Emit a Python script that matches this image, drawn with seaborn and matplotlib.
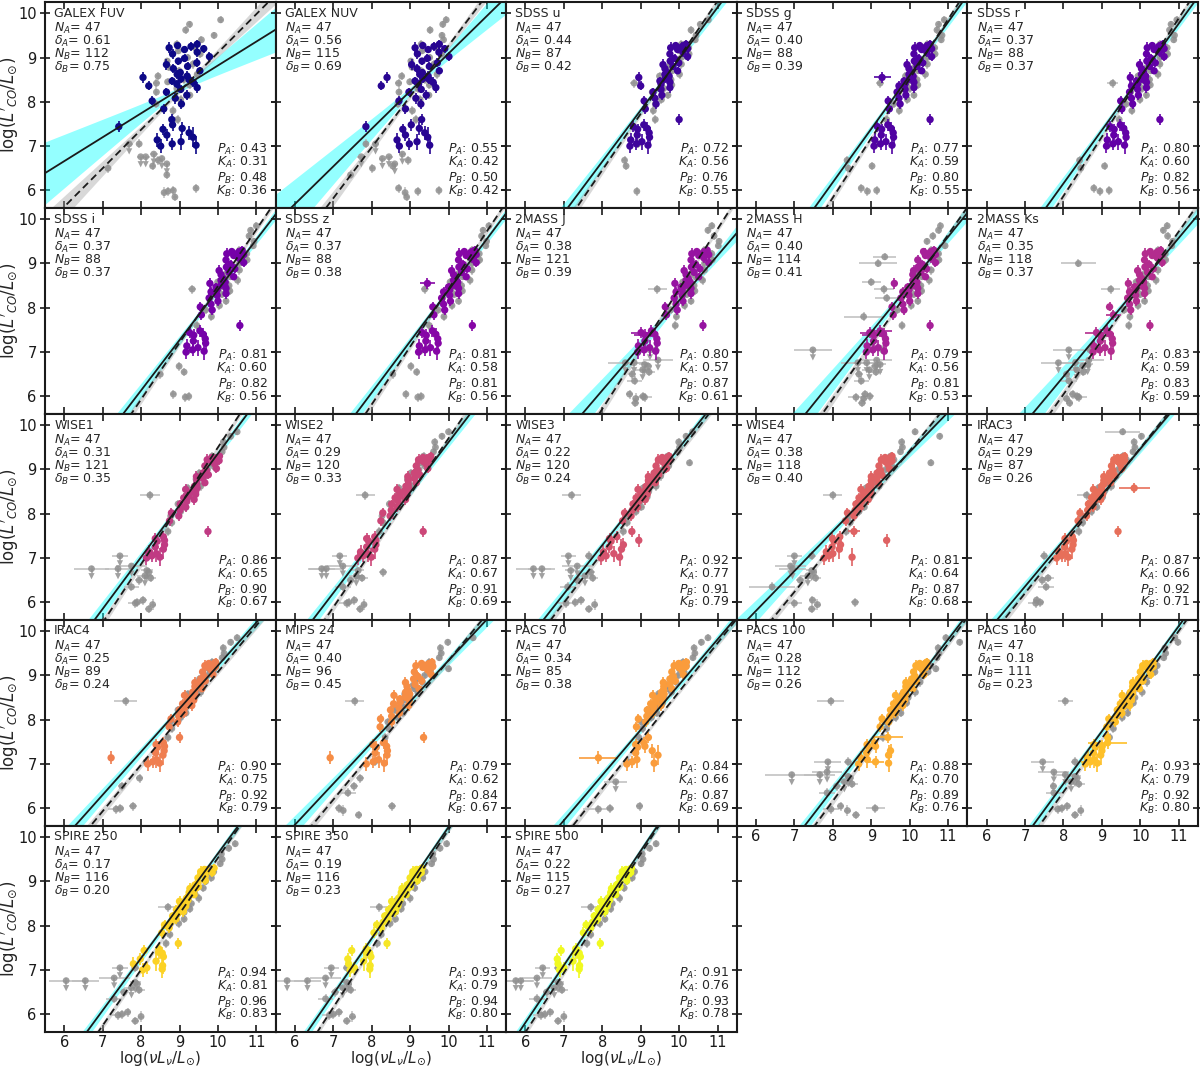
import numpy as np
import matplotlib
matplotlib.use("Agg")
import matplotlib.pyplot as plt
import seaborn as sns

nan = np.nan

# ---------------- panel metadata ----------------
BANDS = ["GALEX FUV", "GALEX NUV", "SDSS u", "SDSS g", "SDSS r", "SDSS i", "SDSS z",
         "2MASS J", "2MASS H", "2MASS Ks", "WISE1", "WISE2", "WISE3", "WISE4",
         "IRAC3", "IRAC4", "MIPS 24", "PACS 70", "PACS 100", "PACS 160",
         "SPIRE 250", "SPIRE 350", "SPIRE 500"]
N_A = [47] * 23
DELTA_A = [0.61, 0.56, 0.44, 0.40, 0.37, 0.37, 0.37, 0.38, 0.40, 0.35, 0.31, 0.29,
           0.22, 0.38, 0.29, 0.25, 0.40, 0.34, 0.28, 0.18, 0.17, 0.19, 0.22]
N_B = [112, 115, 87, 88, 88, 88, 88, 121, 114, 118, 121, 120, 120, 118, 87, 89,
       96, 85, 112, 111, 116, 116, 115]
DELTA_B = [0.75, 0.69, 0.42, 0.39, 0.37, 0.37, 0.38, 0.39, 0.41, 0.37, 0.35, 0.33,
           0.24, 0.40, 0.26, 0.24, 0.45, 0.38, 0.26, 0.23, 0.20, 0.23, 0.27]
P_A = [0.43, 0.55, 0.72, 0.77, 0.80, 0.81, 0.81, 0.80, 0.79, 0.83, 0.86, 0.87,
       0.92, 0.81, 0.87, 0.90, 0.79, 0.84, 0.88, 0.93, 0.94, 0.93, 0.91]
K_A = [0.31, 0.42, 0.56, 0.59, 0.60, 0.60, 0.58, 0.57, 0.56, 0.59, 0.65, 0.67,
       0.77, 0.64, 0.66, 0.75, 0.62, 0.66, 0.70, 0.79, 0.81, 0.79, 0.76]
P_B = [0.48, 0.50, 0.76, 0.80, 0.82, 0.82, 0.81, 0.87, 0.81, 0.83, 0.90, 0.91,
       0.91, 0.87, 0.92, 0.92, 0.84, 0.87, 0.89, 0.92, 0.96, 0.94, 0.93]
K_B = [0.36, 0.42, 0.55, 0.55, 0.56, 0.56, 0.56, 0.61, 0.53, 0.59, 0.67, 0.69,
       0.79, 0.68, 0.71, 0.79, 0.67, 0.69, 0.76, 0.80, 0.83, 0.80, 0.78]

# fit lines: y = slope * (x - 9) + value_at_9
SLOPE_A = [0.54, 0.85, 1.16, 1.206, 1.203, 1.135, 1.158, 1.015, 1.077, 1.043, 1.169, 1.135,
           1.10, 0.897, 1.036, 0.973, 0.928, 1.022, 1.127, 1.187, 1.181, 1.258, 1.293]
AT9_A = [8.28, 8.24, 7.81, 7.39, 7.36, 7.27, 7.24, 7.15, 7.45, 7.49, 8.19, 8.48,
         8.39, 8.50, 8.43, 8.25, 8.41, 7.77, 7.56, 7.74, 8.45, 8.97, 9.69]
SLOPE_B = [0.87, 1.149, 1.272, 1.342, 1.338, 1.279, 1.304, 1.354, 1.235, 1.225, 1.319, 1.272,
           1.13, 1.062, 1.092, 1.048, 1.048, 1.095, 1.184, 1.212, 1.262, 1.338, 1.342]
AT9_B = [8.24, 8.12, 7.73, 7.18, 7.21, 7.21, 7.12, 7.07, 7.18, 7.27, 8.18, 8.43,
         8.25, 8.36, 8.39, 8.03, 8.29, 7.54, 7.35, 7.58, 8.27, 8.83, 9.62]
PIVOT = [9.0, 9.3, 9.65, 10.0, 10.05, 10.1, 10.15, 10.2, 10.1, 10.0, 9.4, 8.9,
         9.15, 8.95, 9.0, 9.35, 8.9, 9.55, 9.85, 9.75, 9.2, 8.7, 8.15]
SLOPE_ERR_A = [0.20, 0.17, 0.08, 0.07, 0.07, 0.07, 0.07, 0.12, 0.12, 0.12, 0.07, 0.07,
               0.06, 0.08, 0.06, 0.06, 0.07, 0.06, 0.06, 0.05, 0.05, 0.05, 0.05]
SLOPE_ERR_B = [0.08, 0.07, 0.05, 0.04, 0.04, 0.04, 0.04, 0.05, 0.05, 0.05, 0.04, 0.04,
               0.04, 0.04, 0.04, 0.04, 0.04, 0.04, 0.04, 0.03, 0.03, 0.03, 0.03]

# ---------------- sample A (coloured): shared log L'CO ----------------
Y_A = [9.30, 9.27, 9.25, 9.22, 9.20, 9.18, 9.12, 9.08, 9.02, 8.98,
       8.92, 8.88, 8.84, 8.80, 8.75, 8.70, 8.66, 8.62, 8.58, 8.55,
       8.52, 8.50, 8.47, 8.44, 8.40, 8.36, 8.32, 8.28, 8.22, 8.15,
       8.08, 8.02, 7.95, 7.84, 7.60, 7.48, 7.44, 7.40, 7.38, 7.30,
       7.25, 7.20, 7.14, 7.10, 7.05, 7.02, 7.00]
YERR_A = [0.10, 0.08, 0.10, 0.12, 0.09, 0.08, 0.10, 0.12, 0.10, 0.09,
          0.08, 0.10, 0.12, 0.09, 0.10, 0.08, 0.09, 0.10, 0.11, 0.12,
          0.09, 0.10, 0.08, 0.11, 0.09, 0.10, 0.12, 0.09, 0.10, 0.11,
          0.12, 0.10, 0.11, 0.12, 0.12, 0.14, 0.12, 0.15, 0.13, 0.16,
          0.14, 0.22, 0.15, 0.18, 0.14, 0.20, 0.15]

XA_GALEX_FUV = [9.46, 8.95, 9.30, 8.73, 9.63, 9.13, 9.46, 8.82, 9.78, 9.13,
                8.97, 9.45, 8.66, 9.21, 8.84, 9.53, 9.02, 8.94, 9.20, 8.05,
                9.04, 9.25, 8.81, 9.36, 8.93, 8.20, 9.46, 9.03, 8.66, 9.19,
                8.89, 8.29, 9.05, 8.59, 8.80, 8.82, 7.42, 9.07, 8.57, 9.25,
                8.67, 9.35, 8.42, 9.04, 8.81, 9.43, 8.51]
XA_GALEX_NUV = [9.76, 9.33, 9.62, 9.13, 9.90, 9.47, 9.75, 9.19, 10.01, 9.45,
                9.31, 9.71, 9.04, 9.50, 9.18, 9.76, 9.32, 9.25, 9.47, 8.40,
                9.33, 9.50, 9.13, 9.60, 9.22, 8.25, 9.67, 9.29, 8.97, 9.42,
                9.15, 8.71, 9.28, 8.88, 9.30, 9.03, 7.85, 9.24, 8.81, 9.38,
                8.88, 9.46, 8.66, 9.18, 8.98, 9.51, 8.72]
XA_SDSS_U = [10.18, 9.91, 10.08, 9.78, 10.22, 9.96, 10.10, 9.76, 10.22, 9.88,
             9.77, 9.99, 9.58, 9.84, 9.63, 9.96, 9.69, 9.63, 9.74, 8.95,
             9.64, 9.73, 9.50, 9.76, 9.53, 9.00, 9.76, 9.53, 9.32, 9.55,
             9.37, 9.09, 9.40, 9.12, 10.00, 9.08, 8.81, 9.17, 8.92, 9.22,
             8.91, 9.23, 8.74, 9.03, 8.89, 9.19, 8.72]
XA_SDSS_G = [10.53, 10.26, 10.43, 10.13, 10.57, 10.31, 10.45, 10.11, 10.57, 10.23,
             10.12, 10.34, 9.93, 10.19, 9.98, 10.31, 10.04, 9.98, 10.09, 9.28,
             9.99, 10.08, 9.85, 10.11, 9.88, 9.72, 10.11, 9.88, 9.67, 9.90,
             9.72, 9.44, 9.75, 9.47, 10.53, 9.43, 9.16, 9.52, 9.27, 9.57,
             9.26, 9.58, 9.09, 9.38, 9.24, 9.54, 9.07]
XA_SDSS_R = [10.58, 10.31, 10.48, 10.18, 10.62, 10.36, 10.50, 10.16, 10.62, 10.28,
             10.17, 10.39, 9.98, 10.24, 10.03, 10.36, 10.09, 10.03, 10.14, 9.74,
             10.04, 10.13, 9.90, 10.16, 9.93, 9.77, 10.16, 9.93, 9.72, 9.95,
             9.77, 9.49, 9.80, 9.52, 10.51, 9.48, 9.21, 9.57, 9.32, 9.62,
             9.31, 9.63, 9.14, 9.43, 9.29, 9.59, 9.12]
XA_SDSS_I = [10.63, 10.36, 10.53, 10.23, 10.67, 10.41, 10.55, 10.21, 10.67, 10.33,
             10.22, 10.44, 10.03, 10.29, 10.08, 10.41, 10.14, 10.08, 10.19, 9.79,
             10.09, 10.18, 9.95, 10.21, 9.98, 9.82, 10.21, 9.98, 9.77, 10.00,
             9.82, 9.54, 9.85, 9.57, 10.57, 9.53, 9.26, 9.62, 9.37, 9.67,
             9.36, 9.68, 9.19, 9.48, 9.34, 9.64, 9.17]
XA_SDSS_Z = [10.68, 10.41, 10.58, 10.28, 10.72, 10.46, 10.60, 10.26, 10.72, 10.38,
             10.27, 10.49, 10.08, 10.34, 10.13, 10.46, 10.19, 10.13, 10.24, 9.45,
             10.14, 10.23, 10.00, 10.26, 10.03, 9.87, 10.26, 10.03, 9.82, 10.05,
             9.87, 9.59, 9.90, 9.62, 10.62, 9.58, 9.31, 9.67, 9.42, 9.72,
             9.41, 9.73, 9.24, 9.53, 9.39, 9.69, 9.22]
XA_2MASS_J = [10.73, 10.46, 10.63, 10.33, 10.77, 10.51, 10.65, 10.31, 10.77, 10.43,
              10.32, 10.54, 10.13, 10.39, 10.18, 10.51, 10.24, 10.18, 10.29, 9.89,
              10.19, 10.28, 10.05, 10.31, 10.08, 9.92, 10.31, 10.08, 9.87, 10.10,
              9.92, 9.64, 9.95, 9.67, 10.62, 9.28, 9.01, 9.37, 9.12, 9.42,
              9.11, 9.43, 8.94, 9.23, 9.09, 9.39, 8.92]
XA_2MASS_H = [10.63, 10.36, 10.53, 10.40, 10.67, 10.41, 10.55, 10.21, 10.67, 10.33,
              10.22, 10.44, 10.10, 10.29, 10.08, 10.41, 10.14, 10.08, 10.19, 9.60,
              10.09, 10.18, 9.95, 10.21, 9.98, 9.82, 10.21, 9.98, 9.77, 10.00,
              9.82, 9.54, 9.85, 9.57, 10.53, 9.23, 8.96, 9.32, 9.07, 9.37,
              9.06, 9.38, 8.89, 9.18, 9.04, 9.34, 8.87]
XA_2MASS_KS = [10.53, 10.26, 10.43, 10.13, 10.57, 10.31, 10.45, 10.11, 10.57, 10.23,
               10.12, 10.34, 9.93, 10.19, 9.98, 10.31, 10.04, 9.98, 10.09, 9.69,
               9.99, 10.08, 9.85, 10.11, 9.88, 9.72, 10.11, 9.88, 9.67, 9.90,
               9.72, 9.20, 9.75, 9.30, 10.25, 9.13, 8.86, 9.22, 8.97, 9.27,
               8.96, 9.28, 8.79, 9.08, 8.94, 9.24, 8.77]
XA_WISE1 = [10.04, 9.84, 9.95, 9.72, 10.03, 9.84, 9.92, 9.66, 9.96, 9.70,
            9.61, 9.75, 9.44, 9.61, 9.45, 9.66, 9.45, 9.39, 9.46, 9.16,
            9.36, 9.42, 9.25, 9.42, 9.24, 9.11, 9.38, 9.19, 9.02, 9.16,
            9.01, 8.79, 8.98, 8.74, 9.74, 8.58, 8.37, 8.61, 8.42, 8.61,
            8.37, 8.58, 8.21, 8.40, 8.28, 8.49, 8.14]
XA_WISE2 = [9.54, 9.34, 9.45, 9.22, 9.53, 9.34, 9.42, 9.16, 9.46, 9.20,
            9.11, 9.25, 8.94, 9.11, 8.95, 9.16, 8.95, 8.89, 8.96, 8.66,
            8.86, 8.92, 8.75, 8.92, 8.74, 8.61, 8.88, 8.69, 8.52, 8.66,
            8.51, 8.29, 8.48, 8.24, 9.34, 8.08, 7.87, 8.11, 7.92, 8.11,
            7.87, 8.08, 7.71, 7.90, 7.78, 7.99, 7.64]
XA_WISE3 = [9.74, 9.56, 9.66, 9.46, 9.74, 9.56, 9.63, 9.40, 9.67, 9.44,
            9.35, 9.47, 9.20, 9.35, 9.20, 9.38, 9.20, 9.14, 9.20, 8.93,
            9.11, 9.17, 9.01, 9.17, 9.00, 8.88, 9.12, 8.95, 8.80, 8.92,
            8.78, 8.58, 8.75, 8.53, 8.77, 8.38, 8.19, 8.95, 8.23, 8.55,
            8.18, 8.50, 8.03, 8.30, 8.10, 8.45, 7.97]
XA_WISE4 = [9.54, 9.36, 9.46, 9.26, 9.54, 9.36, 9.43, 9.20, 9.47, 9.24,
            9.15, 9.27, 9.00, 9.15, 9.00, 9.18, 9.00, 8.94, 9.00, 8.73,
            8.91, 8.97, 8.81, 8.97, 8.80, 8.68, 8.92, 8.75, 8.60, 8.72,
            8.58, 8.38, 8.55, 8.33, 8.55, 8.18, 7.99, 9.40, 8.03, 8.20,
            7.98, 8.17, 7.83, 8.00, 7.90, 8.50, 7.77]
XA_IRAC3 = [9.59, 9.41, 9.51, 9.31, 9.59, 9.41, 9.48, 9.25, 9.52, 9.29,
            9.20, 9.32, 9.05, 9.20, 9.05, 9.23, 9.05, 8.99, 9.84, 8.78,
            8.96, 9.02, 8.86, 9.02, 8.85, 8.73, 8.97, 8.80, 8.65, 8.77,
            8.63, 8.43, 8.60, 8.38, 9.42, 8.23, 8.04, 8.26, 8.08, 8.25,
            8.03, 8.22, 7.88, 8.05, 7.95, 8.13, 7.82]
XA_IRAC4 = [9.94, 9.76, 9.86, 9.66, 9.94, 9.76, 9.83, 9.60, 9.87, 9.64,
            9.55, 9.67, 9.40, 9.55, 9.40, 9.58, 9.40, 9.34, 9.40, 9.13,
            9.31, 9.37, 9.21, 9.37, 9.20, 9.08, 9.32, 9.15, 9.00, 9.12,
            8.98, 8.78, 8.95, 8.73, 9.00, 8.58, 8.39, 8.61, 8.43, 8.60,
            8.38, 8.57, 7.22, 8.40, 8.30, 8.48, 8.17]
XA_MIPS24 = [9.57, 9.30, 9.46, 9.15, 9.59, 9.33, 9.46, 9.11, 9.55, 9.20,
             9.09, 9.30, 8.88, 9.13, 8.92, 9.23, 8.95, 8.88, 8.99, 8.58,
             8.87, 8.96, 8.73, 8.98, 8.74, 8.57, 8.96, 8.71, 8.49, 8.72,
             8.52, 8.23, 8.52, 8.22, 9.35, 8.31, 8.03, 8.39, 8.12, 8.41,
             8.09, 8.40, 6.92, 8.18, 8.04, 8.33, 7.86]
XA_PACS70 = [10.19, 9.99, 10.10, 9.87, 10.18, 9.99, 10.07, 9.81, 10.11, 9.85,
             9.76, 9.90, 9.59, 9.76, 9.60, 9.81, 9.60, 9.54, 9.61, 9.31,
             9.51, 9.57, 9.40, 9.57, 9.39, 9.26, 9.53, 9.34, 9.17, 9.31,
             9.16, 8.94, 9.13, 8.89, 9.20, 9.08, 8.87, 9.11, 8.92, 9.30,
             8.87, 9.45, 7.90, 8.90, 8.78, 9.35, 8.64]
XA_PACS100 = [10.44, 10.26, 10.36, 10.16, 10.44, 10.26, 10.33, 10.10, 10.37, 10.14,
              10.05, 10.17, 9.90, 10.05, 9.90, 10.08, 9.90, 9.84, 9.90, 9.63,
              9.81, 9.87, 9.71, 9.87, 9.70, 9.58, 9.82, 9.65, 9.50, 9.62,
              9.48, 9.28, 9.45, 9.23, 9.43, 9.08, 8.89, 9.11, 8.93, 9.50,
              8.88, 9.45, 8.73, 8.90, 9.11, 9.45, 8.67]
XA_PACS160 = [10.34, 10.16, 10.26, 10.06, 10.34, 10.16, 10.23, 10.00, 10.27, 10.04,
              9.95, 10.07, 9.80, 9.95, 9.80, 9.98, 9.80, 9.74, 9.80, 9.53,
              9.71, 9.77, 9.61, 9.77, 9.60, 9.48, 9.72, 9.55, 9.40, 9.52,
              9.38, 9.18, 9.35, 9.13, 9.15, 9.15, 8.79, 9.01, 8.83, 9.00,
              8.78, 8.97, 8.63, 8.80, 8.70, 8.88, 8.57]
XA_SPIRE250 = [9.90, 9.65, 9.72, 9.55, 9.85, 9.63, 9.67, 9.48, 9.67, 9.48,
               9.40, 9.49, 9.27, 9.38, 9.25, 9.38, 9.23, 9.18, 9.22, 9.00,
               9.13, 9.17, 9.04, 9.16, 9.02, 8.92, 9.10, 8.96, 8.82, 8.91,
               8.78, 8.61, 8.73, 8.54, 8.97, 8.46, 8.08, 8.46, 8.55, 8.58,
               7.98, 8.39, 7.80, 8.56, 8.15, 8.55, 8.04]
XA_SPIRE350 = [9.31, 9.17, 9.24, 9.07, 9.29, 9.15, 9.19, 9.00, 9.19, 9.00,
               8.92, 9.01, 8.79, 8.90, 8.77, 8.90, 8.75, 8.70, 8.74, 8.52,
               8.65, 8.69, 8.56, 8.68, 8.54, 8.44, 8.62, 8.48, 8.34, 8.43,
               8.30, 8.13, 8.25, 8.06, 8.40, 7.86, 7.48, 7.86, 7.95, 7.98,
               7.38, 7.79, 7.40, 7.96, 7.55, 7.95, 7.44]
XA_SPIRE500 = [8.76, 8.62, 8.69, 8.52, 8.74, 8.60, 8.64, 8.45, 8.64, 8.45,
               8.37, 8.46, 8.24, 8.35, 8.22, 8.35, 8.20, 8.15, 8.19, 7.97,
               8.10, 8.14, 8.01, 8.13, 7.99, 7.89, 8.07, 7.93, 7.79, 7.88,
               7.75, 7.58, 7.70, 7.51, 7.95, 7.31, 6.93, 7.31, 7.40, 7.43,
               6.83, 7.24, 6.85, 7.41, 7.00, 7.40, 6.89]

# wide horizontal error bars of a few coloured points  {panel: {point: xerr}}
XERR_A_WIDE = {3: {19: 0.22}, 6: {19: 0.20}, 7: {36: 0.25, 38: 0.30},
               8: {35: 0.30, 36: 0.25, 38: 0.30}, 9: {36: 0.30, 33: 0.20},
               13: {34: 0.15}, 14: {18: 0.40}, 17: {42: 0.50},
               18: {34: 0.40, 44: 0.22}, 19: {35: 0.50, 44: 0.25}}

# ---------------- sample B extra galaxies (grey): shared log L'CO ----------------
Y_B = [6.76, 6.76, 7.05, 6.82, 6.72, 6.60, 6.50, 6.35, 6.05, 6.00,
       5.95, 5.85, 5.98, 6.68, 6.55, 7.05, 7.60, 7.80, 7.95, 8.05,
       8.15, 8.22, 8.30, 8.38, 8.45, 8.50, 8.58, 8.62, 8.70, 8.78,
       8.85, 8.92, 9.00, 9.08, 9.15, 9.22, 9.30, 9.40, 9.50, 9.62,
       9.75, 9.85, 8.42]
YERR_B = [0.05, 0.05, 0.05, 0.05, 0.05, 0.05, 0.10, 0.10, 0.10, 0.10,
          0.12, 0.10, 0.10, 0.10, 0.10, 0.10, 0.10, 0.10, 0.09, 0.10,
          0.08, 0.10, 0.09, 0.10, 0.08, 0.10, 0.09, 0.10, 0.08, 0.09,
          0.10, 0.08, 0.09, 0.10, 0.08, 0.09, 0.10, 0.08, 0.08, 0.09,
          0.08, 0.08, 0.10]
UPPER_LIMIT_B = [1, 1, 1, 1, 1, 1, 0, 0, 0, 0,
                 0, 0, 0, 0, 0, 0, 0, 0, 0, 0,
                 0, 0, 0, 0, 0, 0, 0, 0, 0, 0,
                 0, 0, 0, 0, 0, 0, 0, 0, 0, 0,
                 0, 0, 0]
XERR_B_OPT = [0.10, 0.10, 0.10, 0.10, 0.08, 0.08, 0.06, 0.06, 0.06, 0.05,
              0.05, 0.05, 0.05, 0.06, 0.06, 0.06, 0.05, 0.05, 0.05, 0.05,
              0.05, 0.05, 0.05, 0.05, 0.05, 0.05, 0.05, 0.05, 0.05, 0.05,
              0.05, 0.05, 0.05, 0.05, 0.05, 0.05, 0.05, 0.05, 0.05, 0.05,
              0.05, 0.05, 0.10]
XERR_B_IR = [0.45, 0.35, 0.20, 0.40, 0.15, 0.20, 0.10, 0.20, 0.10, 0.10,
             0.08, 0.10, 0.20, 0.10, 0.15, 0.10, 0.06, 0.06, 0.06, 0.06,
             0.06, 0.06, 0.06, 0.06, 0.06, 0.06, 0.06, 0.06, 0.06, 0.06,
             0.06, 0.06, 0.06, 0.06, 0.06, 0.06, 0.06, 0.06, 0.05, 0.05,
             0.05, 0.05, 0.25]
XERR_B_WIDE = {4: {42: 0.15}, 8: {34: 0.30, 32: 0.50, 26: 0.25, 17: 0.50, 21: 0.30, 2: 0.50},
               9: {32: 0.45, 2: 0.40}, 13: {7: 0.60}, 14: {41: 0.45}, 15: {42: 0.30},
               17: {12: 0.40, 5: 0.30}, 18: {0: 0.70, 1: 0.40, 2: 0.35, 9: 0.25, 42: 0.35},
               19: {2: 0.30, 42: 0.20}}

XB_GALEX_FUV = [7.99, 8.12, 7.69, 8.33, 8.54, 8.67, 7.14, 8.67, 9.43, 8.84,
                8.60, 8.88, 8.70, 8.45, 8.30, 7.95, 8.95, 8.83, 8.39, 9.03,
                9.27, 8.40, 8.93, 9.26, 8.69, 9.11, 8.44, 9.46, 8.99, 8.72,
                9.35, 8.68, 9.21, 9.54, 8.97, 9.40, 8.93, 9.57, 9.90, 9.16,
                9.26, 10.07, 8.40]
XB_GALEX_NUV = [7.73, 8.45, 8.10, 8.80, 8.28, 8.60, 8.02, 7.45, 8.70, 9.75,
                8.87, 8.91, 9.20, 8.95, 8.55, 7.85, 9.15, 9.06, 8.68, 9.26,
                9.49, 8.71, 9.20, 9.50, 8.99, 9.38, 8.78, 9.70, 9.29, 9.05,
                9.62, 9.02, 9.51, 9.82, 9.31, 9.70, 9.29, 9.87, 9.83, 9.52,
                9.85, 9.94, 8.70]
XB_SDSS_U = [nan, nan, nan, nan, nan, nan, nan, nan, nan, nan,
             nan, nan, 8.90, 8.58, 8.62, 8.93, 9.38, 9.33, 9.38, 9.54,
             9.71, 9.30, 9.60, 9.81, 9.55, 9.79, 9.49, 10.01, 9.82, 9.72,
             10.06, 9.76, 10.06, 10.26, 10.01, 10.25, 10.06, 10.42, 10.44, 10.31,
             10.55, 10.76, 8.83]
XB_SDSS_G = [nan, nan, nan, nan, nan, nan, 8.40, nan, 8.74, 9.14,
             nan, nan, 8.90, 8.37, 9.02, 9.15, 9.40, 9.73, 9.58, 9.94,
             10.11, 9.70, 10.00, 10.21, 9.95, 10.19, 9.89, 10.41, 10.22, 10.12,
             10.46, 10.16, 10.46, 10.66, 10.41, 10.65, 10.46, 10.82, 10.84, 10.71,
             10.75, 10.90, 9.23]
XB_SDSS_R = [nan, nan, nan, nan, nan, nan, 8.45, nan, 8.79, 9.19,
             nan, nan, 8.95, 8.42, 9.07, 9.20, 9.45, 9.78, 9.63, 9.99,
             10.16, 9.75, 10.05, 10.26, 10.00, 10.24, 9.94, 10.46, 10.27, 10.17,
             10.51, 10.21, 10.51, 10.71, 10.46, 10.70, 10.51, 10.87, 10.89, 10.76,
             10.80, 10.95, 9.28]
XB_SDSS_I = [nan, nan, nan, nan, nan, nan, 8.50, nan, 8.84, 9.24,
             nan, nan, 9.15, 8.99, 9.12, 9.25, 9.45, 9.83, 9.68, 10.04,
             10.21, 9.80, 10.10, 10.31, 10.05, 10.29, 9.99, 10.51, 10.32, 10.22,
             10.56, 10.26, 10.56, 10.76, 10.51, 10.75, 10.56, 10.92, 10.94, 10.81,
             10.85, 11.00, 9.33]
XB_SDSS_Z = [nan, nan, nan, nan, nan, nan, 8.55, nan, 8.89, 9.29,
             nan, nan, 9.20, 9.02, 9.17, 9.30, 9.50, 9.88, 9.73, 10.09,
             10.26, 9.85, 10.15, 10.36, 10.10, 10.34, 10.04, 10.56, 10.37, 10.27,
             10.61, 10.31, 10.61, 10.81, 10.56, 10.80, 10.61, 10.97, 10.99, 10.86,
             10.90, 11.05, 9.38]
XB_2MASS_J = [8.60, 8.83, 9.24, 9.45, 9.10, 9.05, 8.78, 8.84, 8.71, 9.06,
              8.87, 8.86, 9.10, 9.20, 9.22, 9.39, 9.90, 9.93, 9.78, 10.14,
              10.31, 9.90, 10.20, 10.41, 10.15, 10.39, 10.09, 10.61, 10.42, 10.32,
              10.66, 10.36, 10.66, 10.86, 10.61, 10.85, 10.66, 11.02, 11.04, 10.91,
              10.75, 10.85, 9.43]
XB_2MASS_H = [8.65, 8.88, 7.48, 9.14, 9.23, 8.95, 8.68, 8.74, 8.84, 8.96,
              8.80, 8.76, 8.60, 9.10, 9.12, 9.29, 9.80, 8.80, 9.68, 10.04,
              10.21, 9.40, 10.10, 10.31, 10.05, 10.29, 9.00, 10.51, 10.32, 10.22,
              10.56, 10.26, 9.18, 10.76, 9.35, 10.75, 10.56, 10.92, 10.45, 10.60,
              10.75, 10.80, 9.33]
XB_2MASS_KS = [7.87, 8.31, 8.14, 8.66, 8.63, 8.35, 8.08, 8.14, 8.24, 8.36,
               8.08, 8.16, 8.40, 8.50, 8.52, 8.69, 9.70, 9.73, 9.58, 9.94,
               10.11, 9.70, 10.00, 10.21, 9.95, 10.19, 9.89, 10.41, 10.22, 10.12,
               10.46, 10.16, 8.39, 10.66, 10.41, 10.65, 10.46, 10.82, 10.84, 10.71,
               10.60, 10.70, 9.23]
XB_WISE1 = [6.71, 7.40, 7.45, 7.75, 8.15, 8.10, 7.95, 7.75, 8.05, 7.90,
            8.30, 8.20, 7.85, 8.20, 8.25, 8.20, 8.70, 8.80, 8.77, 9.03,
            9.17, 8.96, 9.17, 9.32, 9.20, 9.36, 9.21, 9.55, 9.46, 9.43,
            9.67, 9.52, 9.73, 9.88, 9.76, 9.94, 9.85, 10.11, 10.16, 10.14,
            10.33, 10.50, 8.23]
XB_WISE2 = [6.82, 6.70, 7.17, 7.25, 7.65, 7.60, 7.45, 7.25, 7.55, 7.40,
            7.80, 7.70, 7.35, 8.30, 7.75, 7.70, 8.20, 8.30, 8.27, 8.53,
            8.67, 8.46, 8.67, 8.82, 8.70, 8.86, 8.71, 9.05, 8.96, 8.93,
            9.17, 9.02, 9.23, 9.38, 9.26, 9.44, 9.35, 9.61, 9.66, 9.64,
            9.83, 10.00, 7.83]
XB_WISE3 = [6.21, 6.43, 7.12, 7.35, 7.18, 7.55, 7.35, 7.10, 7.45, 7.30,
            7.80, 7.65, 7.06, 7.70, 7.75, 7.65, 8.55, 8.65, 8.62, 8.88,
            9.02, 8.81, 9.02, 9.17, 9.05, 9.21, 9.06, 9.40, 9.31, 9.28,
            9.52, 9.37, 9.58, 9.73, 10.27, 9.79, 9.70, 9.96, 10.01, 9.99,
            10.18, 10.35, 7.20]
XB_WISE4 = [nan, 6.95, 7.00, 6.90, 7.45, 7.35, 7.15, 6.42, 7.47, 8.58,
            7.60, 7.45, 7.00, 7.50, 7.55, 7.45, 8.35, 8.45, 8.42, 8.68,
            8.82, 8.61, 8.82, 8.97, 8.85, 9.01, 8.86, 9.20, 9.11, 9.08,
            9.32, 9.17, 9.38, 9.53, 10.55, 9.59, 9.50, 9.76, 9.81, 9.79,
            10.78, 10.14, 8.00]
XB_IRAC3 = [nan, nan, nan, nan, nan, nan, 7.45, 7.55, 7.30, 7.40,
            nan, nan, 7.28, nan, 7.60, 7.50, 8.40, 8.50, 8.47, 8.73,
            8.87, 8.66, 8.87, 9.02, 8.90, 9.06, 8.91, 9.25, 9.16, 9.13,
            9.37, 9.22, 9.43, 9.58, 9.46, 9.64, 9.55, 9.81, 9.86, 9.84,
            10.03, 9.54, 8.60]
XB_IRAC4 = [nan, nan, nan, nan, nan, nan, 7.50, nan, 7.79, 7.46,
            nan, nan, 7.35, 7.96, nan, 8.13, 8.70, 8.80, 8.77, 9.03,
            9.17, 8.96, 9.17, 9.32, 9.20, 9.36, 9.21, 9.55, 9.46, 9.43,
            9.67, 9.52, 9.73, 9.88, 9.76, 9.94, 9.85, 10.11, 10.16, 10.14,
            10.33, 10.50, 7.60]
XB_MIPS24 = [nan, nan, nan, nan, nan, nan, 7.54, 7.38, 8.53, 7.15,
             7.26, 7.66, nan, 7.70, nan, 8.08, 8.35, 8.45, 8.42, 8.68,
             8.82, 8.61, 8.82, 8.97, 8.85, 9.01, 8.86, 9.20, 9.11, 9.08,
             9.32, 9.17, 9.38, 9.53, 10.00, 9.59, 9.50, 9.76, 9.81, 9.79,
             9.98, 10.64, 7.56]
XB_PACS70 = [nan, nan, nan, nan, nan, 8.35, nan, nan, 8.97, 8.20,
             nan, nan, 7.90, nan, nan, 8.68, 8.95, 9.05, 9.02, 9.28,
             9.42, 9.21, 9.42, 9.57, 9.45, 9.61, 9.46, 9.80, 9.71, 9.68,
             9.92, 9.77, 9.98, 10.13, 10.01, 10.19, 10.10, 10.36, 10.41, 10.39,
             10.58, 10.75, nan]
XB_PACS100 = [6.93, 7.66, 7.87, 7.85, 8.40, 8.30, 8.10, 7.85, 8.20, 9.10,
              8.38, 8.60, 7.95, 8.45, 8.50, 8.40, 9.30, 9.40, 9.37, 9.63,
              9.77, 9.56, 9.77, 9.92, 9.80, 9.96, 9.81, 10.15, 10.06, 10.03,
              10.27, 10.12, 10.33, 10.48, 10.68, 10.54, 10.45, 10.71, 10.76, 10.74,
              11.30, 10.94, 7.95]
XB_PACS160 = [nan, 8.05, 7.46, 7.75, 8.30, 8.20, 7.74, 7.75, 8.10, 7.95,
              8.45, 8.30, 7.85, 8.35, 8.40, 8.30, 9.20, 9.30, 9.27, 9.53,
              9.67, 9.46, 9.67, 9.82, 9.70, 9.86, 9.71, 10.05, 9.96, 9.93,
              10.17, 10.02, 10.23, 10.38, 10.26, 10.44, 10.35, 10.61, 10.66, 10.64,
              10.98, 10.90, 8.05]
XB_SPIRE250 = [6.05, 6.55, 7.45, 7.30, 7.85, 7.75, 7.55, 7.30, 7.65, 7.50,
               8.00, 7.85, 7.40, 7.90, 7.95, 7.85, 8.65, 8.75, 8.72, 8.98,
               9.12, 8.91, 9.12, 9.27, 9.15, 9.31, 9.16, 9.50, 9.41, 9.38,
               9.62, 9.47, 9.68, 9.83, 9.71, 9.89, 9.80, 10.06, 10.11, 10.09,
               10.28, 10.45, 8.70]
XB_SPIRE350 = [5.80, 6.33, 6.95, 6.80, 7.35, 7.25, 7.05, 6.80, 7.15, 7.00,
               7.50, 7.35, 6.90, 7.40, 7.45, 7.35, 8.15, 8.25, 8.22, 8.48,
               8.62, 8.41, 8.62, 8.77, 8.65, 8.81, 8.66, 9.00, 8.91, 8.88,
               9.12, 8.97, 9.18, 9.33, 9.21, 9.39, 9.30, 9.56, 9.61, 9.59,
               9.78, 9.95, 8.20]
XB_SPIRE500 = [5.75, 5.88, 6.45, 6.30, 6.85, 6.75, 6.55, 6.30, 6.65, 6.50,
               7.00, 6.85, 6.40, 6.90, 6.95, 6.85, 7.60, 7.70, 7.67, 7.93,
               8.07, 7.86, 8.07, 8.22, 8.10, 8.26, 8.11, 8.45, 8.36, 8.33,
               8.57, 8.42, 8.63, 8.78, 8.66, 8.84, 8.75, 9.01, 9.06, 9.04,
               9.23, 9.40, 7.70]

XA = [XA_GALEX_FUV, XA_GALEX_NUV, XA_SDSS_U, XA_SDSS_G, XA_SDSS_R, XA_SDSS_I, XA_SDSS_Z,
      XA_2MASS_J, XA_2MASS_H, XA_2MASS_KS, XA_WISE1, XA_WISE2, XA_WISE3, XA_WISE4,
      XA_IRAC3, XA_IRAC4, XA_MIPS24, XA_PACS70, XA_PACS100, XA_PACS160,
      XA_SPIRE250, XA_SPIRE350, XA_SPIRE500]
XB = [XB_GALEX_FUV, XB_GALEX_NUV, XB_SDSS_U, XB_SDSS_G, XB_SDSS_R, XB_SDSS_I, XB_SDSS_Z,
      XB_2MASS_J, XB_2MASS_H, XB_2MASS_KS, XB_WISE1, XB_WISE2, XB_WISE3, XB_WISE4,
      XB_IRAC3, XB_IRAC4, XB_MIPS24, XB_PACS70, XB_PACS100, XB_PACS160,
      XB_SPIRE250, XB_SPIRE350, XB_SPIRE500]

for k in range(23):
    if len(XA[k]) != len(Y_A) or len(XB[k]) != len(Y_B):
        raise SystemExit(f"length mismatch in panel {BANDS[k]}: {len(XA[k])} {len(XB[k])}")

# ---------------- drawing ----------------
sns.set_theme(style="ticks")
plt.rcParams["font.family"] = ["DejaVu Sans"]
plt.rcParams["mathtext.fontset"] = "dejavusans"

plasma = sns.color_palette("plasma", as_cmap=True)
colors = [plasma(v) for v in np.linspace(0.0, 1.0, len(BANDS))]

fig, axes = plt.subplots(5, 5, figsize=(12, 10.71), dpi=100, sharex=True, sharey=True)
fig.subplots_adjust(left=0.0375, right=0.9983, top=0.998, bottom=0.0364,
                    wspace=0, hspace=0)

xgrid = np.linspace(5.0, 12.0, 400)
ya_arr = np.asarray(Y_A, float)
yb_arr = np.asarray(Y_B, float)
ul_arr = np.asarray(UPPER_LIMIT_B, bool)
GREY_PT = "#8f8f8f"
GREY_ERR = "#bdbdbd"

for i, band in enumerate(BANDS):
    ax = axes.flat[i]
    row, colidx = divmod(i, 5)
    col = colors[i]

    xa = np.asarray(XA[i], float)
    xa_err = np.full(len(xa), 0.05)
    for k, v in XERR_A_WIDE.get(i, {}).items():
        xa_err[k] = v

    xb = np.asarray(XB[i], float)
    xb_err = np.asarray(XERR_B_OPT if i < 7 else XERR_B_IR, float).copy()
    for k, v in XERR_B_WIDE.get(i, {}).items():
        xb_err[k] = v
    m = ~np.isnan(xb)
    ul = ul_arr & m

    # fit lines and confidence bands
    la = SLOPE_A[i] * (xgrid - 9.0) + AT9_A[i]
    wa = np.hypot(0.07, SLOPE_ERR_A[i] * (xgrid - PIVOT[i]))
    lb = SLOPE_B[i] * (xgrid - 9.0) + AT9_B[i]
    wb = np.hypot(0.05, SLOPE_ERR_B[i] * (xgrid - PIVOT[i]))
    ax.fill_between(xgrid, la - wa, la + wa, color="cyan", alpha=0.42, lw=0, zorder=1)
    ax.fill_between(xgrid, lb - wb, lb + wb, color="#9a9a9a", alpha=0.38, lw=0, zorder=1.1)

    # grey sample-B points
    ax.errorbar(xb[m], yb_arr[m], xerr=xb_err[m], yerr=np.asarray(YERR_B)[m], fmt="none",
                ecolor=GREY_ERR, elinewidth=1.1, capsize=0, zorder=2)
    if ul.any():
        ax.vlines(xb[ul], yb_arr[ul] - 0.17, yb_arr[ul], color="#a0a0a0", lw=1.1, zorder=2)
        sns.scatterplot(x=xb[ul], y=yb_arr[ul] - 0.17, marker="v", s=20, color="#a0a0a0",
                        edgecolor="none", ax=ax, zorder=3, legend=False)
    sns.scatterplot(x=xb[m], y=yb_arr[m], s=24, color=GREY_PT, alpha=0.85,
                    edgecolor="none", ax=ax, zorder=3, legend=False)

    # coloured sample-A points
    ax.errorbar(xa, ya_arr, xerr=xa_err, yerr=YERR_A, fmt="none", ecolor=col,
                elinewidth=1.2, capsize=0, zorder=4)
    sns.scatterplot(x=xa, y=ya_arr, s=28, color=col, edgecolor="none", ax=ax,
                    zorder=5, legend=False)

    ax.plot(xgrid, la, color="k", lw=1.3, zorder=6)
    ax.plot(xgrid, lb, color="k", lw=1.3, ls=(0, (4, 2.4)), zorder=6)

    # annotations
    ax.text(0.04, 0.947, band, transform=ax.transAxes, fontsize=9, va="center", ha="left")
    left_block = "\n".join([rf"$N_A$= {N_A[i]}", rf"$\delta_A$= {DELTA_A[i]:.2f}",
                            rf"$N_B$= {N_B[i]}", rf"$\delta_B$= {DELTA_B[i]:.2f}"])
    ax.text(0.04, 0.777, left_block, transform=ax.transAxes, fontsize=9,
            va="center", ha="left", linespacing=0.82)
    ax.text(0.968, 0.252, rf"$P_A$: {P_A[i]:.2f}" + "\n" + rf"$K_A$: {K_A[i]:.2f}",
            transform=ax.transAxes, fontsize=9, va="center", ha="right", linespacing=0.78)
    ax.text(0.968, 0.114, rf"$P_B$: {P_B[i]:.2f}" + "\n" + rf"$K_B$: {K_B[i]:.2f}",
            transform=ax.transAxes, fontsize=9, va="center", ha="right", linespacing=0.78)

    ax.set_xlim(5.5, 11.5)
    ax.set_ylim(5.6, 10.25)
    ax.set_xticks([6, 7, 8, 9, 10, 11])
    ax.set_yticks([6, 7, 8, 9, 10])
    show_x = (row == 4) or (row == 3 and colidx >= 3)
    show_y = colidx == 0
    ax.tick_params(axis="x", direction="in", length=5, width=1.2, top=True, bottom=True,
                   labelsize=10.5, colors="k", pad=2, labelbottom=show_x)
    ax.tick_params(axis="y", direction="inout", length=7, width=1.2, left=True, right=True,
                   labelsize=10.5, colors="k", pad=2.5, labelleft=show_y)
    for sp in ax.spines.values():
        sp.set_linewidth(1.5)
        sp.set_color("k")
    if show_x:
        ax.set_xlabel(r"log($\nu L_{\nu}/L_{\odot}$)", fontsize=11)
        ax.xaxis.set_label_coords(0.5, -0.086)
    if show_y:
        ax.set_ylabel(r"log($L'_{CO}/L_{\odot}$)", fontsize=12)
        ax.yaxis.set_label_coords(-0.105, 0.5)

for j in (23, 24):
    axes.flat[j].set_visible(False)

fig.savefig("out.png", dpi=100)
